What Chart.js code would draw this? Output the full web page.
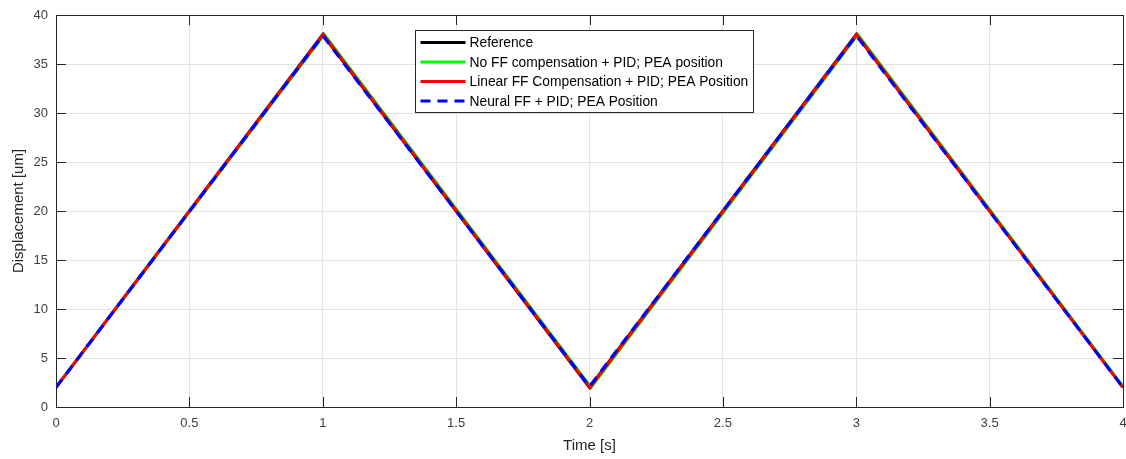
<!DOCTYPE html>
<html>
<head>
<meta charset="utf-8">
<script src="https://cdn.jsdelivr.net/npm/chart.js@4.4.1/dist/chart.umd.min.js"></script>
<style>
  html, body { margin: 0; padding: 0; background: #fff; }
  #wrap { width: 1126px; height: 459px; }
</style>
</head>
<body>
<div id="wrap"><canvas id="LineChart" width="1126" height="459"></canvas></div>
<script>
// triangle reference, peaks at 1 s and 3 s
const timeRef = [0, 1, 2, 3, 4];
const reference = [2, 38, 2, 38, 2];
const timeNoFF = [0, 1.006, 2.006, 3.006, 4];
const noFF = [2, 38, 2, 38, 2.1];
const timeLinear = [0, 1.002, 2.002, 3.002, 4];
const linearFF = [2, 38, 2, 38, 2];
const timeNeural = [0, 1, 2, 3, 4];
const neuralFF = [2, 37.9, 2.1, 37.9, 2];
const labels = ['Reference', 'No FF compensation + PID; PEA position',
  'Linear FF Compensation + PID; PEA Position', 'Neural FF + PID; PEA Position'];
const xTicks = [0, 0.5, 1, 1.5, 2, 2.5, 3, 3.5, 4];

const pts = (xs, ys) => xs.map((x, i) => ({ x: x, y: ys[i] }));
const FONT = '"Liberation Sans", Arial, sans-serif';

// box, inward ticks and legend like matlab
const matlabBox = {
  id: 'matlabBox',
  afterDatasetsDraw(chart) {
    const c = chart.ctx, a = chart.chartArea;
    const xs = chart.scales.x, ys = chart.scales.y;
    c.save();
    c.strokeStyle = '#262626';
    c.lineWidth = 1;
    c.beginPath();
    xTicks.forEach(t => {
      const px = Math.round(xs.getPixelForValue(t)) + 0.5;
      c.moveTo(px, a.bottom); c.lineTo(px, a.bottom - 10);
      c.moveTo(px, a.top); c.lineTo(px, a.top + 10);
    });
    for (let v = 0; v <= 40; v += 5) {
      const py = Math.round(ys.getPixelForValue(v)) + 0.5;
      c.moveTo(a.left, py); c.lineTo(a.left + 10, py);
      c.moveTo(a.right, py); c.lineTo(a.right - 10, py);
    }
    c.stroke();
    c.strokeRect(Math.round(a.left) + 0.5, Math.round(a.top) + 0.5,
      Math.round(a.right - a.left), Math.round(a.bottom - a.top));

    // legend
    const lx = 415.5, ly = 30.5, lw = 338, lh = 82;
    c.fillStyle = '#fff';
    c.fillRect(lx, ly, lw, lh);
    c.strokeStyle = '#262626';
    c.strokeRect(lx, ly, lw, lh);
    c.font = '13.8px ' + FONT;
    c.textBaseline = 'middle';
    chart.data.datasets.forEach((ds, i) => {
      const y = ly + 12 + i * 19.5;
      c.strokeStyle = ds.borderColor;
      c.lineWidth = 3;
      c.setLineDash(ds.borderDash || []);
      c.beginPath();
      c.moveTo(lx + 5, y); c.lineTo(lx + 50, y);
      c.stroke();
      c.setLineDash([]);
      c.fillStyle = '#000';
      c.fillText(ds.label, lx + 54, y + 1);
    });
    c.restore();
  }
};

const ctxLine = document.getElementById('LineChart').getContext('2d');
new Chart(ctxLine, {
  type: 'line',
  data: {
    datasets: [
      { label: labels[0], data: pts(timeRef, reference), borderColor: '#000000', borderWidth: 3, order: 4 },
      { label: labels[1], data: pts(timeNoFF, noFF), borderColor: '#00ff00', borderWidth: 3, order: 3 },
      { label: labels[2], data: pts(timeLinear, linearFF), borderColor: '#ff0000', borderWidth: 3, order: 2 },
      { label: labels[3], data: pts(timeNeural, neuralFF), borderColor: '#0000ff', borderWidth: 3, borderDash: [10, 7], order: 1 }
    ]
  },
  options: {
    responsive: false,
    animation: false,
    elements: { point: { radius: 0 }, line: { tension: 0, borderCapStyle: 'butt' } },
    layout: { padding: { top: 15, right: 3, left: 0, bottom: 0 } },
    plugins: { legend: { display: false }, tooltip: { enabled: false } },
    scales: {
      x: {
        type: 'linear', min: 0, max: 4,
        afterBuildTicks: s => { s.ticks = xTicks.map(v => ({ value: v })); },
        afterFit: s => { s.height = 52; s.paddingLeft = 0; s.paddingRight = 0; },
        grid: { color: '#e3e3e3', drawTicks: false },
        border: { display: false },
        ticks: { padding: 9, color: '#404040', font: { size: 13, family: FONT }, maxRotation: 0,
          callback: v => String(v) },
        title: { display: true, text: 'Time [s]', color: '#262626', padding: { top: 2 }, font: { size: 15, family: FONT } }
      },
      y: {
        min: 0, max: 40,
        afterFit: s => { s.width = 56; s.paddingTop = 0; s.paddingBottom = 0; },
        grid: { color: '#e3e3e3', drawTicks: false },
        border: { display: false },
        ticks: { stepSize: 5, padding: 8, color: '#404040', font: { size: 13, family: FONT } },
        title: { display: true, text: 'Displacement [um]', color: '#262626', padding: { top: 10, bottom: 2 }, font: { size: 15, family: FONT } }
      }
    }
  },
  plugins: [matlabBox]
});
</script>
</body>
</html>
